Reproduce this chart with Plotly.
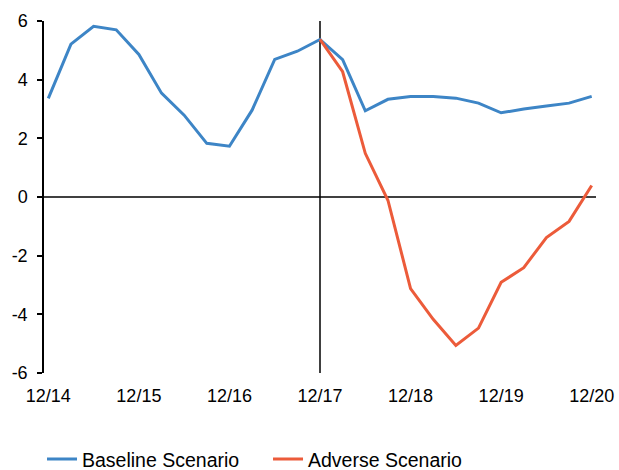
import plotly.graph_objects as go

quarters = ["12/14", "3/15", "6/15", "9/15", "12/15", "3/16", "6/16", "9/16", "12/16",
            "3/17", "6/17", "9/17", "12/17", "3/18", "6/18", "9/18", "12/18",
            "3/19", "6/19", "9/19", "12/19", "3/20", "6/20", "9/20", "12/20"]
baseline = [3.36, 5.21, 5.82, 5.70, 4.86, 3.54, 2.79, 1.83, 1.73, 2.96, 4.69, 4.97, 5.37,
            4.68, 2.94, 3.33, 3.43, 3.43, 3.37, 3.20, 2.87, 3.00, 3.10, 3.20, 3.43]
adverse_idx = list(range(12, 25))
adverse = [5.37, 4.27, 1.49, -0.11, -3.12, -4.17, -5.06, -4.47, -2.91, -2.41, -1.38, -0.83, 0.39]
tick_idx = [0, 4, 8, 12, 16, 20, 24]
tick_labels = ["12/14", "12/15", "12/16", "12/17", "12/18", "12/19", "12/20"]
y_ticks = [-6, -4, -2, 0, 2, 4, 6]
y_labels = ["-6", "-4", "-2", "0", "2", "4", "6"]

BLUE = "#3D85C6"
RED = "#EC5B3A"
FONT = "Liberation Sans, Arial, sans-serif"

fig = go.Figure()
fig.add_trace(go.Scatter(x=list(range(len(baseline))), y=baseline, mode="lines",
                         name="Baseline Scenario", line=dict(color=BLUE, width=3),
                         hovertext=quarters))
fig.add_trace(go.Scatter(x=adverse_idx, y=adverse, mode="lines",
                         name="Adverse Scenario", line=dict(color=RED, width=3),
                         hovertext=[quarters[i] for i in adverse_idx]))

fig.add_shape(type="line", xref="x", yref="paper", x0=12, x1=12, y0=0, y1=1,
              line=dict(color="black", width=1.5), layer="below")
fig.add_shape(type="line", xref="paper", yref="y", x0=0, x1=1, y0=0, y1=0,
              line=dict(color="black", width=1.5), layer="below")

fig.update_layout(
    width=619, height=470,
    margin=dict(l=44, r=23, t=21, b=97, autoexpand=False),
    paper_bgcolor="white", plot_bgcolor="white",
    font=dict(family=FONT, size=18, color="black"),
    showlegend=True,
    legend=dict(orientation="h", x=-0.0036, xanchor="left", y=-0.2452, yanchor="middle",
                font=dict(size=19.5), itemwidth=30, traceorder="normal",
                entrywidth=181, entrywidthmode="pixels"),
)
fig.update_xaxes(range=[-0.19, 24.19], tickmode="array", tickvals=tick_idx,
                 ticktext=tick_labels, showgrid=False, zeroline=False, showline=False,
                 ticks="", ticklabelstandoff=10, tickfont=dict(size=18))
fig.update_yaxes(range=[-6, 6], tickmode="array", tickvals=y_ticks, ticktext=y_labels,
                 showgrid=False, zeroline=False, showline=True, linecolor="black",
                 linewidth=1.5, ticks="outside", ticklen=5, tickcolor="black",
                 tickwidth=1.5, ticklabelstandoff=6, tickfont=dict(size=18))

fig.write_html("out.html")
